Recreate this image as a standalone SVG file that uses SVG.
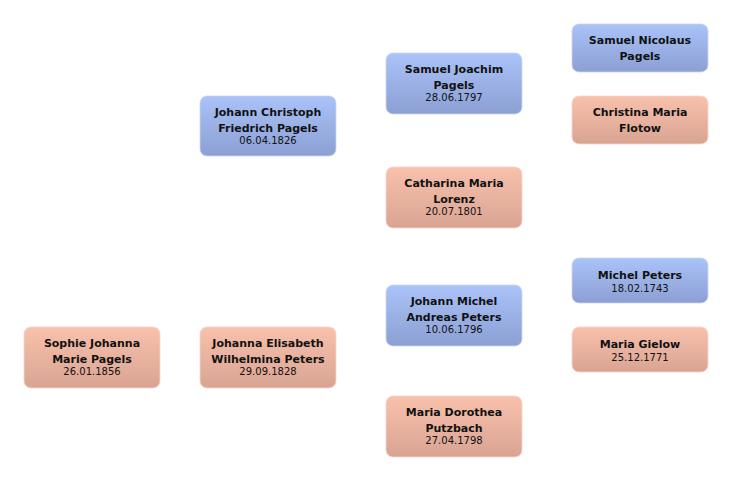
<svg xmlns="http://www.w3.org/2000/svg" width="732" height="481" viewBox="0 0 732 481">
<defs>
<linearGradient id="gm" x1="0" y1="0" x2="0" y2="1"><stop offset="0" stop-color="#aac3f9"/><stop offset="1" stop-color="#8c9fd3"/></linearGradient>
<linearGradient id="gf" x1="0" y1="0" x2="0" y2="1"><stop offset="0" stop-color="#f9c1ac"/><stop offset="1" stop-color="#d8a492"/></linearGradient>
<style>
.m{fill:url(#gm);stroke:#c9d6f3;stroke-width:0.8}
.f{fill:url(#gf);stroke:#f6d5c9;stroke-width:0.8}
.n{font-family:"DejaVu Sans",sans-serif;font-weight:bold;font-size:11px;fill:#111;text-anchor:middle}
.d{font-family:"DejaVu Sans",sans-serif;font-size:10px;fill:#111;text-anchor:middle}
</style>
</defs>
<rect width="732" height="481" fill="#fff"/>
<g id="connectors"></g>
<g id="sophie"><rect class="f" x="24" y="327" width="136" height="61" rx="7"/><text class="n" x="92" y="347">Sophie Johanna</text><text class="n" x="92" y="363">Marie Pagels</text><text class="d" x="92" y="375">26.01.1856</text></g>
<g id="johann-christoph"><rect class="m" x="200" y="96" width="136" height="60" rx="7"/><text class="n" x="268" y="116">Johann Christoph</text><text class="n" x="268" y="132">Friedrich Pagels</text><text class="d" x="268" y="144">06.04.1826</text></g>
<g id="johanna-elisabeth"><rect class="f" x="200" y="327" width="136" height="61" rx="7"/><text class="n" x="268" y="347">Johanna Elisabeth</text><text class="n" x="268" y="363">Wilhelmina Peters</text><text class="d" x="268" y="375">29.09.1828</text></g>
<g id="samuel-joachim"><rect class="m" x="386" y="53" width="136" height="61" rx="7"/><text class="n" x="454" y="73">Samuel Joachim</text><text class="n" x="454" y="89">Pagels</text><text class="d" x="454" y="101">28.06.1797</text></g>
<g id="catharina"><rect class="f" x="386" y="167" width="136" height="61" rx="7"/><text class="n" x="454" y="187">Catharina Maria</text><text class="n" x="454" y="203">Lorenz</text><text class="d" x="454" y="215">20.07.1801</text></g>
<g id="johann-michel"><rect class="m" x="386" y="285" width="136" height="61" rx="7"/><text class="n" x="454" y="305">Johann Michel</text><text class="n" x="454" y="321">Andreas Peters</text><text class="d" x="454" y="333">10.06.1796</text></g>
<g id="maria-dorothea"><rect class="f" x="386" y="396" width="136" height="61" rx="7"/><text class="n" x="454" y="416">Maria Dorothea</text><text class="n" x="454" y="432">Putzbach</text><text class="d" x="454" y="444">27.04.1798</text></g>
<g id="samuel-nicolaus"><rect class="m" x="572" y="24" width="136" height="48" rx="7"/><text class="n" x="640" y="44">Samuel Nicolaus</text><text class="n" x="640" y="60">Pagels</text></g>
<g id="christina"><rect class="f" x="572" y="96" width="136" height="48" rx="7"/><text class="n" x="640" y="116">Christina Maria</text><text class="n" x="640" y="132">Flotow</text></g>
<g id="michel-peters"><rect class="m" x="572" y="258" width="136" height="45" rx="7"/><text class="n" x="640" y="279">Michel Peters</text><text class="d" x="640" y="292">18.02.1743</text></g>
<g id="maria-gielow"><rect class="f" x="572" y="327" width="136" height="45" rx="7"/><text class="n" x="640" y="348">Maria Gielow</text><text class="d" x="640" y="361">25.12.1771</text></g>
</svg>
